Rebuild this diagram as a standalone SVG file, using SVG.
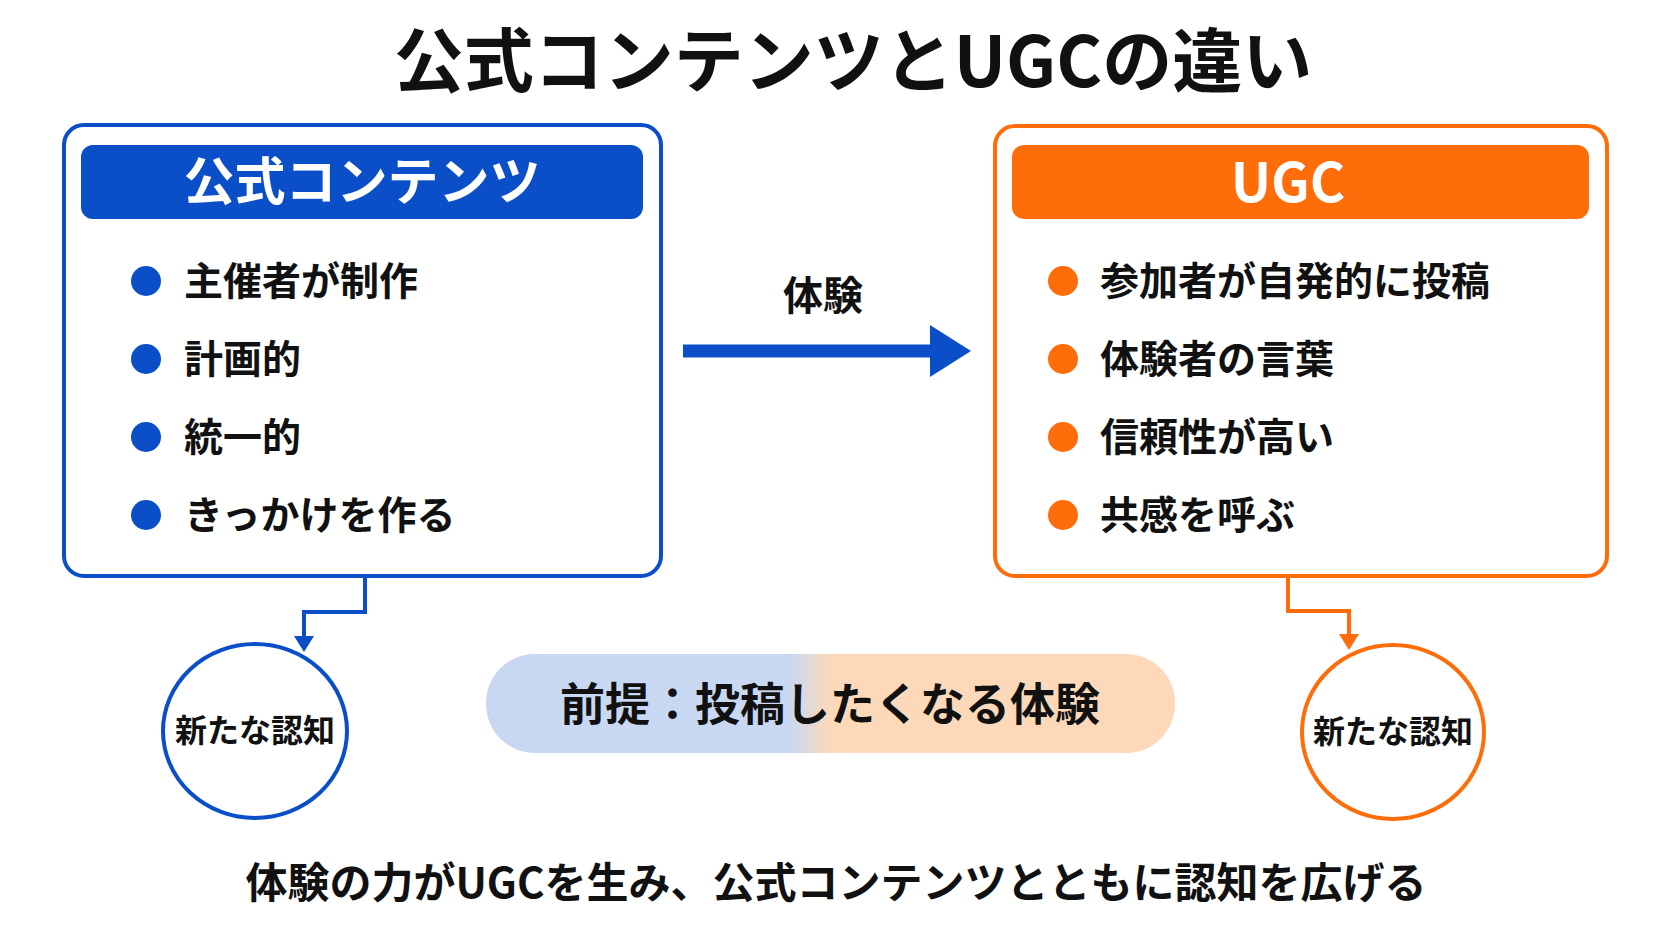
<svg xmlns="http://www.w3.org/2000/svg" width="1672" height="941" viewBox="0 0 1672 941">
<style>
text{font-family:"Noto Sans CJK JP","Noto Sans",sans-serif;font-weight:bold;fill:#111}
.b{font-size:39px}
.c{font-size:32px;text-anchor:middle}
</style>
<defs>
<linearGradient id="g" x1="0" x2="1"><stop offset="0.44" stop-color="#c8d8f3"/><stop offset="0.5" stop-color="#fdd9b9"/></linearGradient>
<marker id="ab" markerWidth="10" markerHeight="10" refX="5" refY="8" orient="auto" markerUnits="userSpaceOnUse" viewBox="0 0 10 10"><path d="M0,0L10,0L5,10z" fill="#0a4fc8"/></marker>
</defs>
<rect width="1672" height="941" fill="#fff"/>
<text x="853" y="87" font-size="70" text-anchor="middle">公式コンテンツとUGCの違い</text>
<g id="official">
<rect x="64" y="125" width="597" height="451" rx="20" fill="#fff" stroke="#0a4fc8" stroke-width="4"/>
<rect x="81" y="145" width="562" height="74" rx="12" fill="#0a4fc8"/>
<text x="362" y="200" font-size="51" text-anchor="middle" style="fill:#fff">公式コンテンツ</text>
<g fill="#0a4fc8"><circle cx="146" cy="281" r="15"/><circle cx="146" cy="359" r="15"/><circle cx="146" cy="437" r="15"/><circle cx="146" cy="515" r="15"/></g>
<text class="b" x="184" y="295">主催者が制作</text>
<text class="b" x="184" y="373">計画的</text>
<text class="b" x="184" y="451">統一的</text>
<text class="b" x="184" y="529">きっかけを作る</text>
</g>
<g id="ugc">
<rect x="995" y="126" width="612" height="450" rx="20" fill="#fff" stroke="#ff6d0a" stroke-width="4"/>
<rect x="1012" y="145" width="577" height="74" rx="12" fill="#ff6d0a"/>
<text x="1288" y="202" font-size="54" text-anchor="middle" style="fill:#fff">UGC</text>
<g fill="#ff6d0a"><circle cx="1063" cy="281" r="15"/><circle cx="1063" cy="359" r="15"/><circle cx="1063" cy="437" r="15"/><circle cx="1063" cy="515" r="15"/></g>
<text class="b" x="1100" y="295">参加者が自発的に投稿</text>
<text class="b" x="1100" y="373">体験者の言葉</text>
<text class="b" x="1100" y="451">信頼性が高い</text>
<text class="b" x="1100" y="529">共感を呼ぶ</text>
</g>
<g id="connectors" fill="none">
<path d="M683,351H935" stroke="#0a4fc8" stroke-width="13"/>
<path d="M930,325L971,351L930,377z" fill="#0a4fc8"/>
<text x="823" y="310" font-size="40" text-anchor="middle">体験</text>
<path d="M365,578V612H304V640" stroke="#0a4fc8" stroke-width="4"/>
<path d="M294,636H314L304,652z" fill="#0a4fc8"/>
<path d="M1288,578V611H1349V638" stroke="#ff6d0a" stroke-width="4"/>
<path d="M1339,634H1359L1349,650z" fill="#ff6d0a"/>
</g>
<g id="aw1"><ellipse cx="255" cy="731" rx="92" ry="87" fill="#fff" stroke="#0a4fc8" stroke-width="4"/><text class="c" x="255" y="742">新たな認知</text></g>
<g id="aw2"><ellipse cx="1393" cy="732" rx="91" ry="87" fill="#fff" stroke="#ff6d0a" stroke-width="4"/><text class="c" x="1393" y="743">新たな認知</text></g>
<g id="premise"><rect x="486" y="654" width="689" height="99" rx="49" fill="url(#g)"/><text x="830" y="721" font-size="45" text-anchor="middle">前提：投稿したくなる体験</text></g>
<text x="836" y="898" font-size="42" text-anchor="middle">体験の力がUGCを生み、公式コンテンツとともに認知を広げる</text>
</svg>
